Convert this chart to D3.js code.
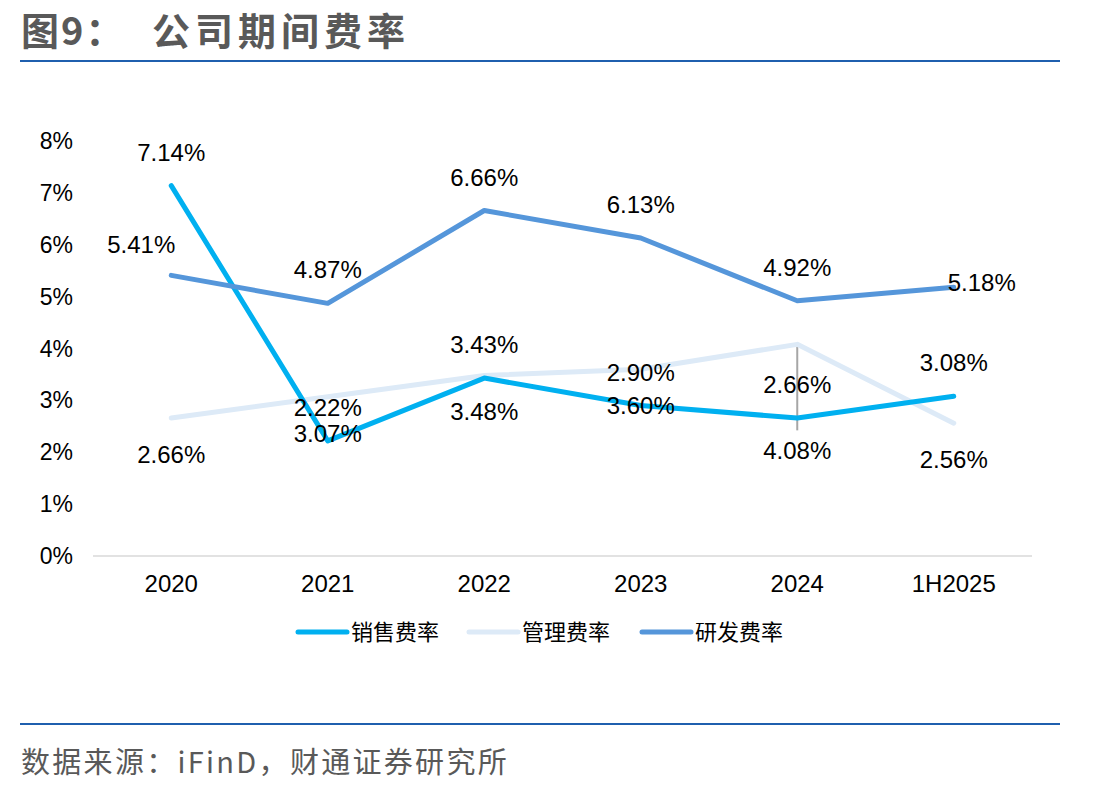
<!DOCTYPE html>
<html>
<head>
<meta charset="utf-8">
<script src="https://cdn.jsdelivr.net/npm/d3@7"></script>
<style>
  body { margin: 0; background: #fff; }
  svg { display: block; }
</style>
</head>
<body>
<svg width="1108" height="791"></svg>
<script>
var categories = ["2020", "2021", "2022", "2023", "2024", "1H2025"];
var salesRate = [7.14, 2.22, 3.43, 2.90, 2.66, 3.08];
var mgmtRate = [2.66, 3.07, 3.48, 3.60, 4.08, 2.56];
var rdRate = [5.41, 4.87, 6.66, 6.13, 4.92, 5.18];
var yTicks = [0, 1, 2, 3, 4, 5, 6, 7, 8];
var seriesNames = ["销售费率", "管理费率", "研发费率"];

var svg = d3.select("svg"),
    width = +svg.attr("width"),
    height = +svg.attr("height");

var cjk = "'Noto Sans CJK SC', 'Noto Sans', sans-serif";
var latin = "'Liberation Sans', Arial, sans-serif";

// title + rules
svg.append("text")
  .attr("x", 21).attr("y", 45)
  .style("font-family", cjk).style("font-weight", "bold")
  .style("font-size", "38px").style("fill", "#595959")
  .style("letter-spacing", "2px")
  .text("图9：");
svg.append("text")
  .attr("x", 152).attr("y", 45)
  .style("font-family", cjk).style("font-weight", "bold")
  .style("font-size", "38px").style("fill", "#595959")
  .style("letter-spacing", "5px")
  .text("公司期间费率");

svg.append("line").attr("x1", 20).attr("x2", 1060).attr("y1", 61).attr("y2", 61)
  .style("stroke", "#1f5fae").style("stroke-width", 2);
svg.append("line").attr("x1", 20).attr("x2", 1060).attr("y1", 724).attr("y2", 724)
  .style("stroke", "#1f5fae").style("stroke-width", 2);

svg.append("text")
  .attr("x", 21).attr("y", 773)
  .style("font-family", cjk).style("font-size", "29px").style("fill", "#595959")
  .style("letter-spacing", "2.3px")
  .text("数据来源：iFinD，财通证券研究所");

var x = d3.scaleBand().domain(categories).range([93, 1032]).padding(0);
var y = d3.scaleLinear().domain([0, 8]).range([556, 141]);
function cx(d) { return x(d) + x.bandwidth() / 2; }

// y labels
svg.selectAll(".ytick").data(yTicks).enter().append("text")
  .attr("x", 73).attr("y", function(d) { return y(d) + 8; })
  .attr("text-anchor", "end")
  .style("font-family", latin).style("font-size", "23px").style("fill", "#000")
  .text(function(d) { return d + "%"; });

// baseline
svg.append("line").attr("x1", 93).attr("x2", 1032).attr("y1", y(0)).attr("y2", y(0))
  .style("stroke", "#d9d9d9").style("stroke-width", 1.5);

// x labels
svg.selectAll(".xtick").data(categories).enter().append("text")
  .attr("x", cx).attr("y", 592)
  .attr("text-anchor", "middle")
  .style("font-family", latin).style("font-size", "24px").style("fill", "#000")
  .text(function(d) { return d; });

var series = [
  { name: seriesNames[0], values: salesRate, color: "#00b0f0" },
  { name: seriesNames[1], values: mgmtRate, color: "#ddeaf7" },
  { name: seriesNames[2], values: rdRate, color: "#5596da" }
];

var line = d3.line()
  .x(function(d, i) { return cx(categories[i]); })
  .y(function(d) { return y(d); });

// leader line for displaced 2024 mgmt label
svg.append("line")
  .attr("x1", cx("2024")).attr("x2", cx("2024"))
  .attr("y1", y(mgmtRate[4])).attr("y2", y(mgmtRate[4]) + 86)
  .style("stroke", "#a6a6a6").style("stroke-width", 2);

// draw mgmt first, then sales, then rd
[1, 0, 2].forEach(function(k) {
  var s = series[k];
  svg.append("path")
    .datum(s.values)
    .attr("d", line)
    .style("fill", "none")
    .style("stroke", s.color)
    .style("stroke-width", 5)
    .style("stroke-linecap", "round")
    .style("stroke-linejoin", "round");
});

function fmt(v) { return v.toFixed(2) + "%"; }

function addLabels(values, offsetFn) {
  svg.append("g").selectAll("text").data(values).enter().append("text")
    .attr("x", function(d, i) { return cx(categories[i]) + offsetFn(i)[0]; })
    .attr("y", function(d, i) { return y(d) + offsetFn(i)[1]; })
    .attr("text-anchor", "middle")
    .style("font-family", latin).style("font-size", "24px").style("fill", "#000")
    .text(fmt);
}

addLabels(salesRate, function(i) { return [0, -25]; });
addLabels(mgmtRate, function(i) { return i == 4 ? [0, 115] : [0, 45]; });
addLabels(rdRate, function(i) {
  if (i == 0) return [-30, -22];
  if (i == 5) return [28, 4];
  return [0, -25];
});

// legend
var legendX = [296, 467, 640];
var lg = svg.selectAll(".legend").data(series).enter().append("g")
  .attr("transform", function(d, i) { return "translate(" + legendX[i] + ",632)"; });
lg.append("line").attr("x1", 2).attr("x2", 51).attr("y1", 0).attr("y2", 0)
  .style("stroke", function(d) { return d.color; })
  .style("stroke-width", 5).style("stroke-linecap", "round");
lg.append("text").attr("x", 55).attr("y", 8)
  .style("font-family", cjk).style("font-size", "22px").style("fill", "#000")
  .text(function(d) { return d.name; });
</script>
</body>
</html>
